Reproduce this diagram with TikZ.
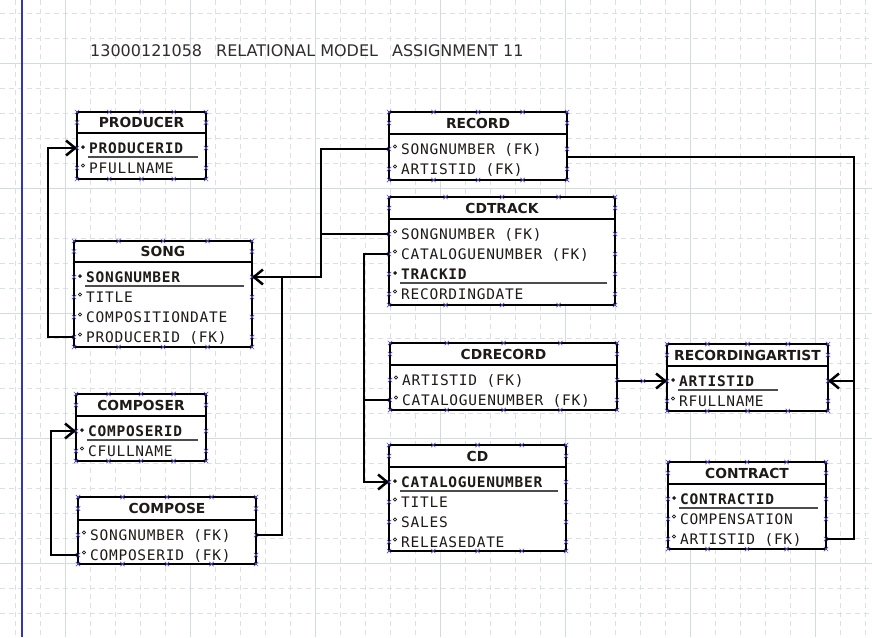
\documentclass[tikz,border=0pt]{standalone}
\usepackage{fontspec}
\setmainfont{DejaVu Sans}
\newfontfamily\attrfont[LetterSpace=5]{DejaVu Sans Mono}
\newfontfamily\headfont{DejaVu Sans}
\usetikzlibrary{arrows.meta}
\definecolor{gridminor}{HTML}{DCE0E5}
\definecolor{gridmajor}{HTML}{D3DAE0}
\definecolor{hcol}{HTML}{5A4FD0}
\definecolor{txt}{HTML}{1E1A18}
\definecolor{ttl}{HTML}{2E2E2E}
\definecolor{vblue}{HTML}{3434B4}
\tikzset{
  ebox/.style={draw=black, fill=white, line width=2.8pt, rectangle, inner sep=0pt, outer sep=0pt},
  hline/.style={line width=2.8pt, black},
  etitle/.style={font=\headfont\bfseries\fontsize{13.8}{15}\selectfont, inner sep=0pt, text=txt, text height=10pt, text depth=0pt},
  attrtext/.style={font=\attrfont\fontsize{14.5}{15}\selectfont, inner sep=0pt, text=txt, anchor=west, text height=10.5pt, text depth=0pt},
  pktext/.style={attrtext, font=\attrfont\bfseries\fontsize{14.5}{15}\selectfont},
  uline/.style={line width=1.3pt, black!70},
  handle/.style={hcol, line width=0.7pt},
  gminor/.style={gridminor, line width=0.8pt, dash pattern=on 5pt off 4pt},
  gmajor/.style={gridmajor, line width=0.9pt},
  conn/.style={line width=2.5pt, black},
  arr/.style={-{Straight Barb[length=9pt,width=15pt]}},
}
\newcommand\hx[2]{\draw[handle] (#1,#2) +(-2.2,-2.2) -- +(2.2,2.2) +(-2.2,2.2) -- +(2.2,-2.2);}
\newcommand\mkentity[7]{%
  \node[ebox, minimum width=#4pt, minimum height=#5pt, anchor=north west] (#1) at (#2,#3) {};
  \draw[hline] (#2,#6) -- ++(#4,0);
  \pgfmathsetmacro\tx{#2+#4/2}\pgfmathsetmacro\ty{(#3+#6)/2}
  \node[etitle] (#1-t) at (\tx,\ty) {#7};
  \foreach \f in {0,0.25,0.5,0.75,1} {\pgfmathsetmacro\hxx{#2+\f*#4}\hx{\hxx}{#3}\hx{\hxx}{#3+#5}}
  \hx{#2}{\ty}\hx{#2+#4}{\ty}
  \gdef\eL{#2}\gdef\eW{#4}\gdef\eHL{#6}}
\newcommand\eattr[3]{%
  \pgfmathsetmacro\ay{\eHL+15+20*(#2-1)}\pgfmathsetmacro\ax{\eL+12}
  \node[attrtext] (#1-#2) at (\ax,\ay) {#3};
  \draw[line width=0.7pt, txt] (\eL+6,\ay-2.5) circle[radius=1.7];
  \hx{\eL}{\ay}\hx{\eL+\eW}{\ay}}
\newcommand\epk[4]{%
  \pgfmathsetmacro\ay{\eHL+15+20*(#2-1)}\pgfmathsetmacro\ax{\eL+12}
  \node[pktext] (#1-#2) at (\ax,\ay) {#3};
  \fill[txt] (\eL+4,\ay-1) -- (\eL+6,\ay-3) -- (\eL+8,\ay-1) -- (\eL+6,\ay+1) -- cycle;
  \draw[uline] (\eL+11,\ay+9) -- (#4,\ay+9);
  \hx{\eL}{\ay}\hx{\eL+\eW}{\ay}}
\begin{document}
\begin{tikzpicture}[x=1pt,y=-1pt]
\useasboundingbox (0,0) rectangle (872,637);
\fill[white] (0,0) rectangle (872,637);
% grid
\foreach \x in {15,40,...,865} \draw[gminor] (\x,0) -- (\x,637);
\foreach \y in {13,38,...,637} \draw[gminor] (0,\y) -- (872,\y);
\foreach \x in {65,190,...,815} \draw[gmajor] (\x,0) -- (\x,637);
\foreach \y in {63,188,...,563} \draw[gmajor] (0,\y) -- (872,\y);
\draw[vblue, line width=1.5pt] (22,0) -- (22,637);
% title
\node[font=\fontsize{16}{19}\selectfont, text=ttl, anchor=west, inner sep=0pt, text height=11.5pt, text depth=0pt] (title) at (90,50.5)
  {13000121058\hspace{14pt}RELATIONAL MODEL\hspace{14pt}ASSIGNMENT 11};
% entities
\mkentity{producer}{77}{112}{129}{67}{133}{PRODUCER}
\epk{producer}{1}{PRODUCERID}{198}
\eattr{producer}{2}{PFULLNAME}

\mkentity{song}{74}{241}{178}{106}{262}{SONG}
\epk{song}{1}{SONGNUMBER}{244}
\eattr{song}{2}{TITLE}
\eattr{song}{3}{COMPOSITIONDATE}
\eattr{song}{4}{PRODUCERID (FK)}

\mkentity{composer}{76}{394}{130}{67}{416}{COMPOSER}
\epk{composer}{1}{COMPOSERID}{198}
\eattr{composer}{2}{CFULLNAME}

\mkentity{compose}{78}{497}{178}{67}{520}{COMPOSE}
\eattr{compose}{1}{SONGNUMBER (FK)}
\eattr{compose}{2}{COMPOSERID (FK)}

\mkentity{record}{389}{112}{178}{68}{134}{RECORD}
\eattr{record}{1}{SONGNUMBER (FK)}
\eattr{record}{2}{ARTISTID (FK)}

\mkentity{cdtrack}{389}{197}{226}{108}{219}{CDTRACK}
\eattr{cdtrack}{1}{SONGNUMBER (FK)}
\eattr{cdtrack}{2}{CATALOGUENUMBER (FK)}
\epk{cdtrack}{3}{TRACKID}{607}
\eattr{cdtrack}{4}{RECORDINGDATE}

\mkentity{cdrecord}{390}{343}{227}{67}{365}{CDRECORD}
\eattr{cdrecord}{1}{ARTISTID (FK)}
\eattr{cdrecord}{2}{CATALOGUENUMBER (FK)}

\mkentity{cd}{389}{445}{177}{106}{467}{CD}
\epk{cd}{1}{CATALOGUENUMBER}{558}
\eattr{cd}{2}{TITLE}
\eattr{cd}{3}{SALES}
\eattr{cd}{4}{RELEASEDATE}

\mkentity{ra}{667}{344}{161}{67}{366}{RECORDINGARTIST}
\epk{ra}{1}{ARTISTID}{778}
\eattr{ra}{2}{RFULLNAME}

\mkentity{contract}{668}{462}{158}{87}{484}{CONTRACT}
\epk{contract}{1}{CONTRACTID}{818}
\eattr{contract}{2}{COMPENSATION}
\eattr{contract}{3}{ARTISTID (FK)}

% junctions
\coordinate (j1) at (321,0 |- song-1);
\coordinate (j2) at (282,0 |- song-1);
\coordinate (j3) at (364,0 |- cd-1);
\coordinate (rx) at (854,157);
% connectors
\draw[conn,arr] (song-4 -| song.west) -- ++(-26,0) |- (producer-1 -| producer.west);
\draw[conn,arr] (compose-2 -| compose.west) -- ++(-27,0) |- (composer-1 -| composer.west);
\draw[conn,arr] (record-1 -| record.west) -| (j1) -- (song-1 -| song.east);
\draw[conn] (cdtrack-1 -| cdtrack.west) -- (cdtrack-1 -| j1);
\draw[conn] (compose-1 -| compose.east) -| (j2);
\draw[conn,arr] (cdtrack-2 -| cdtrack.west) -| (j3) -- (cd-1 -| cd.west);
\draw[conn] (cdrecord-2 -| cdrecord.west) -- (cdrecord-2 -| j3);
\draw[conn,arr] (cdrecord.east |- ra-1) -- (ra-1 -| ra.west);
\draw[conn,arr] (record.east |- rx) -- (rx) |- (ra-1 -| ra.east);
\draw[conn] (contract-3 -| contract.east) -| (rx);
\hx{643}{381}
\end{tikzpicture}
\end{document}
